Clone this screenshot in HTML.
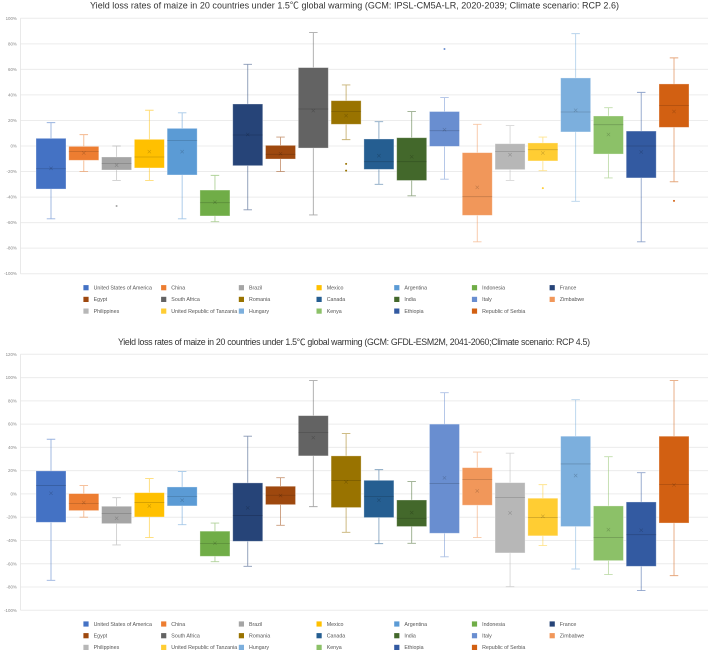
<!DOCTYPE html>
<html lang="en">
<head>
<meta charset="utf-8">
<title>Yield loss rates of maize</title>
<style>
html,body{margin:0;padding:0;background:#fff;width:708px;height:652px;overflow:hidden}
svg{display:block;filter:blur(0.3px)}
text{font-family:"Liberation Sans","Noto Sans CJK SC",sans-serif}
</style>
</head>
<body>
<svg id="figure" width="708" height="652" viewBox="0 0 708 652" xmlns="http://www.w3.org/2000/svg">
<text x="90" y="8.6" font-size="9" fill="#333" textLength="529" lengthAdjust="spacing">Yield loss rates of maize in 20 countries under 1.5℃ global warming (GCM: IPSL-CM5A-LR, 2020-2039; Climate scenario: RCP 2.6)</text>
<text x="118" y="345" font-size="8.8" fill="#333" textLength="472" lengthAdjust="spacing">Yield loss rates of maize in 20 countries under 1.5℃ global warming (GCM: GFDL-ESM2M, 2041-2060;Climate scenario: RCP 4.5)</text>
<g id="chart1"></g>
<g id="chart2"></g>
</svg>
<script>
const countries = ["United States of America","China","Brazil","Mexico","Argentina","Indonesia","France","Egypt","South Africa","Romania","Canada","India","Italy","Zimbabwe","Philippines","United Republic of Tanzania","Hungary","Kenya","Ethiopia","Republic of Serbia"];
const colors = ["#4472C4","#ED7D31","#A5A5A5","#FFC000","#5B9BD5","#70AD47","#264478","#9E480E","#636363","#997300","#255E91","#43682B","#698ED0","#F1975A","#B7B7B7","#FFCD33","#7CAFDD","#8CC168","#335AA1","#D26012"];
const ticks1 = [100,80,60,40,20,0,-20,-40,-60,-80,-100];
const ticks2 = [120,100,80,60,40,20,0,-20,-40,-60,-80,-100];

const high1 = [18.3,8.9,0,28,26,-23,64,7,88.8,47.8,19,27,37.9,17,16,7,88,30,42,69];
const q3a1 = [6,-0.3,-8.6,5.2,13.8,-34.5,32.9,0.5,61.4,35.5,5.5,6.5,27,-5.2,1.8,2.4,53.3,23.5,11.7,48.6];
const median1 = [-17.8,-4.4,-13.6,-8.6,4.2,-44.4,8.6,-6.5,29,27,-12.3,-12.3,12,-39.7,-4.4,-2.9,26.6,16.7,0,31.6];
const mean1 = [-17.5,-5.5,-15,-4.4,-4.4,-44,9,-6,27.7,23.8,-7.6,-8.4,12.8,-32.4,-6.8,-5.5,28,9,-4.7,27];
const q1a1 = [-33.7,-11.2,-18.8,-17.2,-22.7,-54.8,-15.4,-10.2,-1.6,17,-18.3,-27,-0.3,-54.3,-18.5,-11.7,11,-6.3,-25,14.6];
const low1 = [-57,-20,-27,-27,-57,-59.3,-50,-20,-54,5,-30,-39,-26,-75,-27,-19.3,-43.3,-25,-75,-28];
const outliers1 = [[],[],[-47],[],[],[],[],[],[],[-14,-19.3],[],[],[76],[],[],[-33],[],[],[],[-43]];

const high2 = [47,7.2,-3.2,13.2,19.2,-25,49.6,14,97.4,51.9,20.9,10.6,87,36,35,8,81,32,18.3,97.4];
const q3a2 = [19.8,0.3,-10.6,1.1,6,-32,9.5,6.6,67.3,32.7,11.7,-5.2,60,22.6,9.7,-3.7,49.6,-10.3,-6.9,49.6];
const median2 = [7.2,-8.3,-16.9,-7.4,-2.3,-42.7,-18.6,-1.1,52.7,11.5,-2.3,-20.9,8.9,12.3,-3.2,-20.3,25.8,-37.5,-35,8];
const mean2 = [0.6,-7.4,-20.9,-10.3,-5.4,-42.4,-12,-1.4,48.4,10.3,-5.4,-16,13.8,2.6,-16.3,-19.2,15.8,-30.7,-31.2,7.7];
const q1a2 = [-24.4,-14.3,-25.5,-19.8,-10.3,-53.6,-40.7,-9.2,32.7,-11.7,-20.3,-28,-33.8,-9.7,-50.7,-36,-28,-57.3,-62.2,-25];
const low2 = [-74.2,-20,-43.8,-37.5,-26.4,-58.2,-62.2,-27,-10.9,-33,-42.7,-42.4,-54,-37.5,-79.7,-44.4,-64.5,-69.3,-83,-70.2];
const outliers2 = [[],[],[],[],[],[],[],[],[],[],[],[],[],[],[],[],[],[],[],[]];

const NS = "http://www.w3.org/2000/svg";
function mk(parent, tag, attrs) {
  const el = document.createElementNS(NS, tag);
  for (const k in attrs) el.setAttribute(k, attrs[k]);
  parent.appendChild(el);
  return el;
}
function xScale(i) { return 51 + i * 32.79; }

function drawChart(rootId, ticks, geom, high, q3, median, mean, q1, low, outliers) {
  const root = document.getElementById(rootId);
  const yMax = ticks[0], yMin = ticks[ticks.length - 1];
  const y = v => geom.top + (yMax - v) * (geom.bottom - geom.top) / (yMax - yMin);
  const left = 20.5, right = 708, boxW = 30, capW = 8.5;

  ticks.forEach(t => {
    const line = mk(root, "line", {x1: left, x2: right, y1: y(t), y2: y(t), stroke: "#ececec", "stroke-width": 1});
    
    
    const label = mk(root, "text", {x: 16.8, y: y(t) + 1.5, "text-anchor": "end", "font-size": 4.4, fill: "#888"});
    label.textContent = t + "%";
    
    
  });
  const axis = mk(root, "line", {x1: left, x2: left, y1: y(yMax), y2: y(yMin), stroke: "#e4e4e4", "stroke-width": 0.8});
  
  

  countries.forEach((name, i) => {
    const c = colors[i], cx = xScale(i);
    const g = mk(root, "g", {});
    
    

    const whisker = mk(g, "path", {
      d: `M${cx - capW / 2} ${y(high[i])}H${cx + capW / 2}M${cx} ${y(high[i])}V${y(q3[i])}M${cx} ${y(q1[i])}V${y(low[i])}M${cx - capW / 2} ${y(low[i])}H${cx + capW / 2}`,
      fill: "none", stroke: c, "stroke-width": 0.9, "stroke-opacity": 0.55
    });
    
    

    const box = mk(g, "rect", {
      x: cx - boxW / 2, y: y(q3[i]), width: boxW, height: y(q1[i]) - y(q3[i]),
      fill: c, stroke: "#fff", "stroke-width": 0.8, "stroke-opacity": 0.4
    });
    
    

    const med = mk(g, "line", {x1: cx - boxW / 2, x2: cx + boxW / 2, y1: y(median[i]), y2: y(median[i]), stroke: "#000", "stroke-opacity": 0.18, "stroke-width": 0.8});
    
    

    const m = y(mean[i]);
    const cross = mk(g, "path", {d: `M${cx - 1.7} ${m - 1.7}L${cx + 1.7} ${m + 1.7}M${cx + 1.7} ${m - 1.7}L${cx - 1.7} ${m + 1.7}`, fill: "none", stroke: "#000", "stroke-opacity": 0.2, "stroke-width": 0.6});
    
    

    outliers[i].forEach(v => {
      const dot = mk(g, "circle", {cx: cx, cy: y(v), r: 1, fill: c});
      
      
    });
  });

  const legendCols = 7;
  countries.forEach((name, i) => {
    const col = i % legendCols, row = Math.floor(i / legendCols);
    const lx = 86 + col * 77.7, ly = geom.legendY + row * geom.legendGap;
    const entry = mk(root, "g", {});
    
    
    mk(entry, "rect", {x: lx - 2.6, y: ly - 2.6, width: 5.2, height: 5.2, fill: colors[i]});
    const t = mk(entry, "text", {x: lx + 7.6, y: ly + 1.8, "font-size": 5.3, fill: "#555"});
    t.textContent = name;
  });
}

drawChart("chart1", ticks1, {top: 18.3, bottom: 273.7, legendY: 287.7, legendGap: 11.7},
  high1, q3a1, median1, mean1, q1a1, low1, outliers1);
drawChart("chart2", ticks2, {top: 354.3, bottom: 610.3, legendY: 624, legendGap: 11.7},
  high2, q3a2, median2, mean2, q1a2, low2, outliers2);
</script>
</body>
</html>
